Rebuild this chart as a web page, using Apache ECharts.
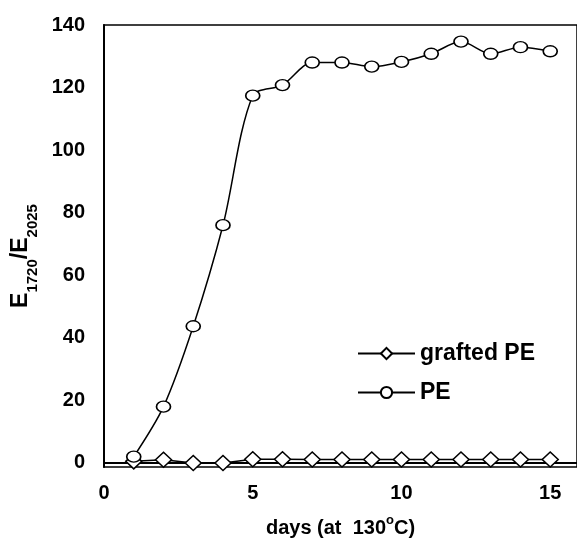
<!DOCTYPE html>
<html>
<head>
<meta charset="utf-8">
<script src="https://cdn.jsdelivr.net/npm/echarts@6/dist/echarts.min.js"></script>
<style>html,body{margin:0;padding:0;background:#fff}#c{width:577px;height:538px}</style>
</head>
<body>
<div id="c"></div>
<script>
var days = [1,2,3,4,5,6,7,8,9,10,11,12,13,14,15];
var peValues = [2, 18, 43.7, 76, 117.4, 120.8, 128, 128, 126.7, 128.2, 130.8, 134.7, 130.8, 132.9, 131.6];
var graftedValues = [0.5, 1, 0, 0, 1.2, 1.2, 1.1, 1.1, 1.1, 1.1, 1.1, 1.1, 1.1, 1.1, 1.1];
var xTicks = [0, 5, 10, 15];
var yTicks = [0, 20, 40, 60, 80, 100, 120, 140];

function pairs(xs, ys){ return xs.map(function(x,i){ return [x, ys[i]]; }); }

var font = 'Liberation Sans, Arial, sans-serif';
var chart = echarts.init(document.getElementById('c'), null, {renderer:'canvas'});
chart.setOption({
  animation: false,
  backgroundColor: '#fff',
  grid: {left:104, right:0, top:25, bottom:71, show:true, borderColor:'#000', borderWidth:1.5,
         containLabel:false, outerBoundsMode:'none'},
  legend: {
    orient:'vertical', left:352, top:337, itemWidth:57, itemHeight:14, itemGap:16,
    textStyle:{fontFamily:font, fontWeight:'bold', fontSize:23, color:'#000', lineHeight:22},
    data:['grafted PE','PE']
  },
  xAxis: {
    type:'value', min:0, max:15.9,
    axisLine:{show:true, lineStyle:{color:'#000', width:2}},
    axisTick:{show:false}, splitLine:{show:false},
    axisLabel:{customValues:xTicks, margin:16, fontFamily:font, fontWeight:'bold', fontSize:20, color:'#000'},
    name:'{a|days (at  130}{o|o}{a|C)}',
    nameLocation:'middle', nameGap:47,
    nameTextStyle:{rich:{
      a:{fontFamily:font, fontWeight:'bold', fontSize:20, color:'#000', lineHeight:24, verticalAlign:'bottom'},
      o:{fontFamily:font, fontWeight:'bold', fontSize:13, color:'#000', lineHeight:24, verticalAlign:'top', padding:[0,0,6,0]}
    }}
  },
  yAxis: {
    type:'value', min:-1.3, max:140,
    axisLine:{show:true, onZero:false, lineStyle:{color:'#000', width:2}},
    axisTick:{show:false}, splitLine:{show:false},
    axisLabel:{customValues:yTicks, margin:19, fontFamily:font, fontWeight:'bold', fontSize:20, color:'#000', padding:[0,0,4,0]},
    name:'{e|E}{s|1720}{e|/E}{s|2025}',
    nameLocation:'middle', nameGap:62, nameRotate:90,
    nameTextStyle:{padding:[0,20,0,0], rich:{
      e:{fontFamily:font, fontWeight:'bold', fontSize:23, color:'#000', lineHeight:32, verticalAlign:'top'},
      s:{fontFamily:font, fontWeight:'bold', fontSize:15, color:'#000', lineHeight:15, verticalAlign:'bottom'}
    }}
  },
  series: [
    {
      name:'grafted PE', type:'line', data:pairs(days, graftedValues),
      symbol:'diamond', symbolSize:[16,15],
      lineStyle:{color:'#000', width:1.5},
      itemStyle:{color:'#fff', borderColor:'#000', borderWidth:1.5}
    },
    {
      name:'PE', type:'line', data:pairs(days, peValues), smooth:0.3,
      symbol:'circle', symbolSize:[14,11],
      lineStyle:{color:'#000', width:1.5},
      itemStyle:{color:'#fff', borderColor:'#000', borderWidth:1.5}
    }
  ]
});
</script>
</body>
</html>
